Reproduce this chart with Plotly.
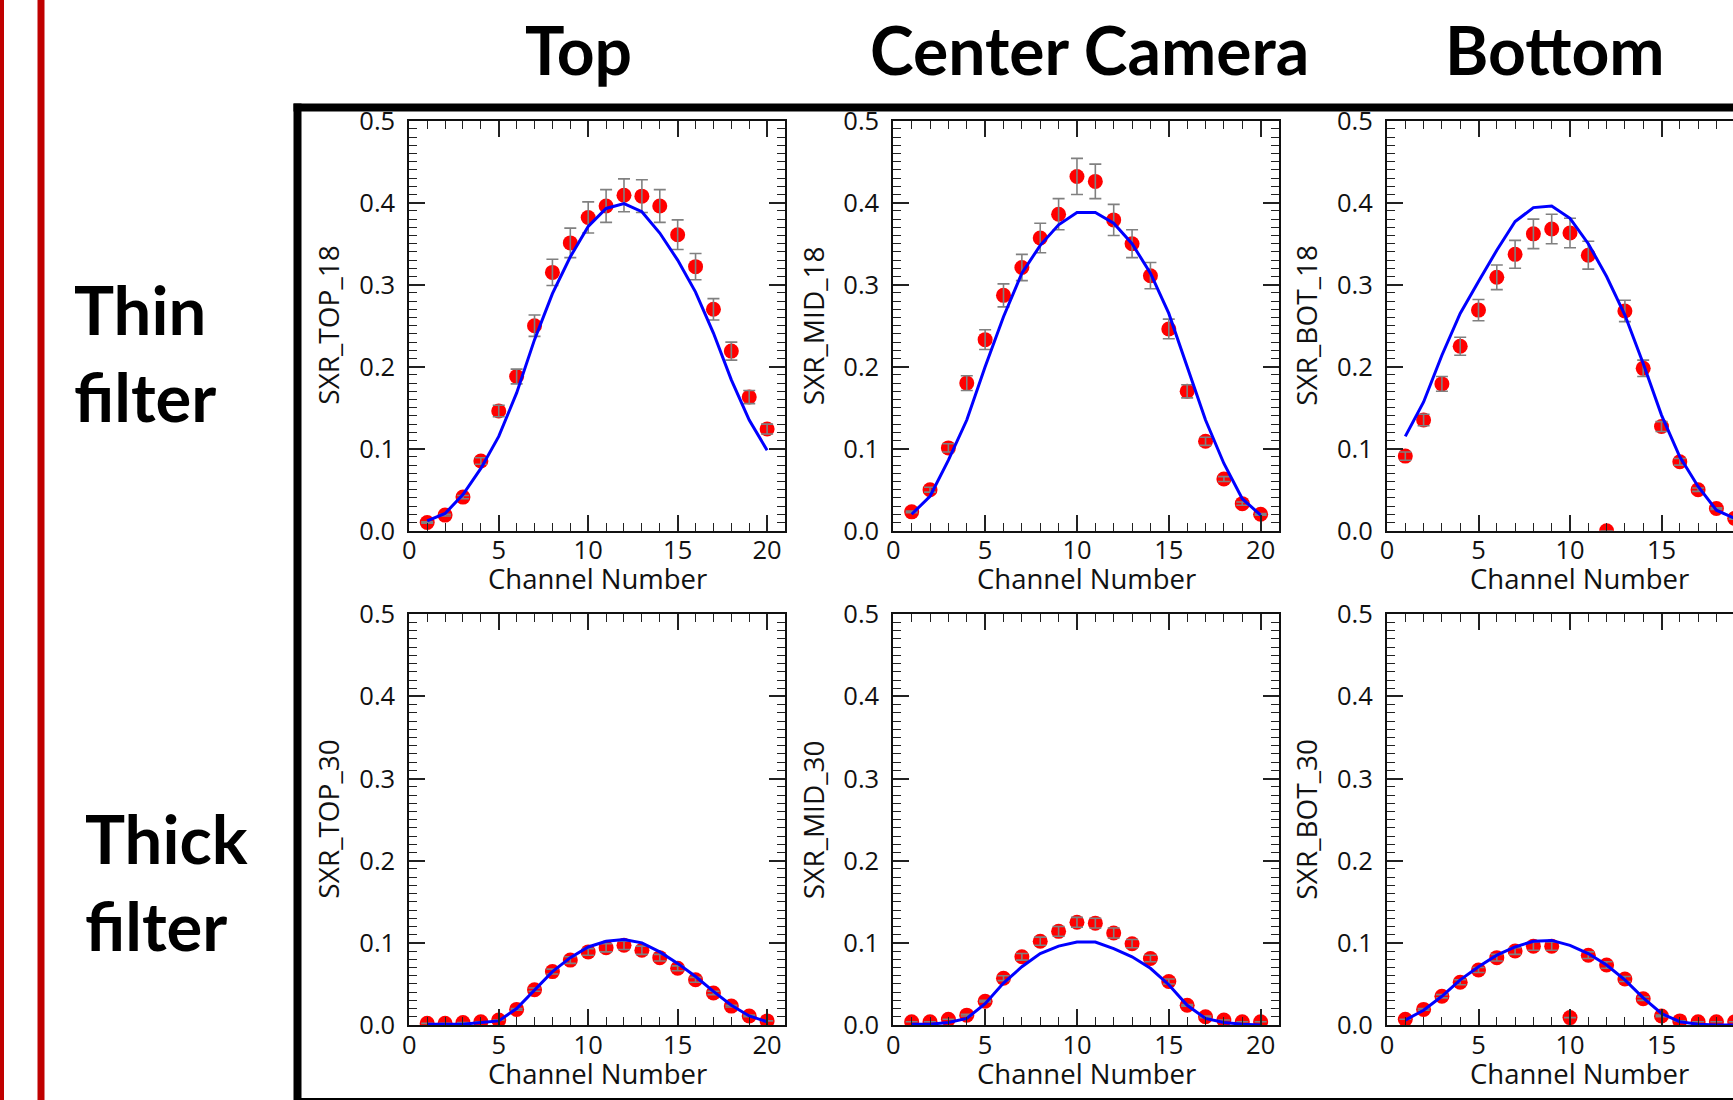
import plotly.graph_objects as go

W, H = 1733, 1100

# Column headings and row headings
col_titles = ["Top", "Center Camera", "Bottom"]
row_titles = ["Thin<br>filter", "Thick<br>filter"]
y_titles = [["SXR_TOP_18", "SXR_MID_18", "SXR_BOT_18"],
            ["SXR_TOP_30", "SXR_MID_30", "SXR_BOT_30"]]
x_title = "Channel Number"

channels = list(range(1, 21))
channels_bot = list(range(1, 20))

# Thin filter (18) measurements, uncertainties and model curves
top18 = [0.010, 0.019, 0.041, 0.085, 0.146, 0.188, 0.250, 0.315, 0.351, 0.382,
         0.396, 0.409, 0.408, 0.396, 0.361, 0.322, 0.270, 0.219, 0.163, 0.124]
top18_err = [0.001, 0.001, 0.002, 0.004, 0.007, 0.009, 0.013, 0.016, 0.018, 0.019,
             0.020, 0.020, 0.020, 0.020, 0.018, 0.016, 0.013, 0.011, 0.008, 0.006]
top18_fit = [0.012, 0.021, 0.044, 0.076, 0.115, 0.168, 0.233, 0.289, 0.334, 0.371,
             0.393, 0.399, 0.389, 0.363, 0.330, 0.291, 0.241, 0.184, 0.135, 0.098]

mid18 = [0.023, 0.050, 0.101, 0.180, 0.233, 0.287, 0.321, 0.357, 0.386, 0.432,
         0.426, 0.379, 0.350, 0.311, 0.246, 0.170, 0.109, 0.063, 0.033, 0.020]
mid18_err = [0.001, 0.003, 0.005, 0.009, 0.012, 0.014, 0.016, 0.018, 0.019, 0.022,
             0.021, 0.019, 0.017, 0.016, 0.012, 0.008, 0.005, 0.003, 0.002, 0.001]
mid18_fit = [0.020, 0.042, 0.086, 0.135, 0.200, 0.261, 0.314, 0.348, 0.373, 0.388,
             0.388, 0.375, 0.350, 0.314, 0.265, 0.200, 0.135, 0.082, 0.039, 0.019]

bot18 = [0.091, 0.135, 0.179, 0.225, 0.269, 0.309, 0.337, 0.362, 0.368, 0.363,
         0.336, 0.000, 0.268, 0.198, 0.127, 0.084, 0.050, 0.027, 0.015]
bot18_err = [0.005, 0.007, 0.009, 0.011, 0.013, 0.015, 0.017, 0.018, 0.018, 0.018,
             0.017, 0.000, 0.013, 0.010, 0.006, 0.004, 0.002, 0.001, 0.001]
bot18_fit = [0.115, 0.157, 0.214, 0.265, 0.304, 0.342, 0.377, 0.394, 0.396, 0.381,
             0.350, 0.310, 0.263, 0.204, 0.141, 0.090, 0.054, 0.025, 0.015]

# Thick filter (30) measurements, uncertainties and model curves
top30 = [0.002, 0.002, 0.003, 0.004, 0.006, 0.019, 0.043, 0.065, 0.079, 0.089,
         0.094, 0.097, 0.091, 0.082, 0.069, 0.055, 0.039, 0.023, 0.011, 0.005]
top30_err = [0.000, 0.000, 0.000, 0.000, 0.000, 0.001, 0.002, 0.003, 0.004, 0.004,
             0.005, 0.005, 0.005, 0.004, 0.003, 0.003, 0.002, 0.001, 0.001, 0.000]
top30_fit = [0.001, 0.001, 0.001, 0.003, 0.005, 0.020, 0.043, 0.065, 0.082, 0.095,
             0.102, 0.104, 0.100, 0.089, 0.075, 0.059, 0.041, 0.024, 0.011, 0.004]

mid30 = [0.004, 0.004, 0.007, 0.012, 0.029, 0.057, 0.083, 0.102, 0.114, 0.125,
         0.124, 0.112, 0.099, 0.081, 0.053, 0.024, 0.010, 0.006, 0.004, 0.004]
mid30_err = [0.000, 0.000, 0.000, 0.001, 0.001, 0.003, 0.004, 0.005, 0.006, 0.006,
             0.006, 0.006, 0.005, 0.004, 0.003, 0.001, 0.001, 0.000, 0.000, 0.000]
mid30_fit = [0.001, 0.001, 0.003, 0.008, 0.026, 0.051, 0.071, 0.087, 0.096, 0.101,
             0.101, 0.093, 0.083, 0.069, 0.049, 0.024, 0.008, 0.003, 0.001, 0.000]

bot30 = [0.007, 0.019, 0.035, 0.052, 0.067, 0.082, 0.090, 0.096, 0.096, 0.009,
         0.085, 0.073, 0.056, 0.032, 0.011, 0.005, 0.004, 0.004, 0.004]
bot30_err = [0.000, 0.001, 0.002, 0.003, 0.003, 0.004, 0.004, 0.005, 0.005, 0.000,
             0.004, 0.004, 0.003, 0.002, 0.001, 0.000, 0.000, 0.000, 0.000]
bot30_fit = [0.006, 0.018, 0.035, 0.055, 0.071, 0.085, 0.095, 0.102, 0.103, 0.097,
             0.087, 0.073, 0.055, 0.033, 0.014, 0.004, 0.001, 0.000, 0.000]

panels = [
    [(channels, top18, top18_err, top18_fit),
     (channels, mid18, mid18_err, mid18_fit),
     (channels_bot, bot18, bot18_err, bot18_fit)],
    [(channels, top30, top30_err, top30_fit),
     (channels, mid30, mid30_err, mid30_fit),
     (channels_bot, bot30, bot30_err, bot30_fit)],
]

# Plot-area placement in pixels: (left, right) per column, (top, bottom) per row
col_px = [(409.3, 785.0), (893.3, 1279.0), (1387.0, 1733.0)]
col_xmax = [21.0, 21.0, (1733.0 - 1387.0) / 18.3]
row_px = [(120.7, 530.7), (614.3, 1025.0)]


def px(x):
    return x / W


def py(y):
    return 1 - y / H


TICK_FONT = dict(family="Open Sans", size=25.5, color="#111")
YTITLE_FONT = dict(family="Open Sans", size=28, color="#111")
XTITLE_FONT = dict(family="Open Sans", size=27.5, color="#111")
HEAD_FONT = dict(family="Lato", size=66, color="black")

fig = go.Figure()
layout_axes = {}
idx = 0
for r in range(2):
    for c in range(3):
        idx += 1
        xs, ys, es, fit = panels[r][c]
        xa = "x" if idx == 1 else f"x{idx}"
        ya = "y" if idx == 1 else f"y{idx}"
        # measured points
        fig.add_trace(go.Scatter(
            x=xs, y=ys, mode="markers", xaxis=xa, yaxis=ya,
            marker=dict(size=15, color="#ff0000", line=dict(width=0)),
            showlegend=False))
        # uncertainty bars drawn above the markers
        fig.add_trace(go.Scatter(
            x=xs, y=ys, mode="markers", xaxis=xa, yaxis=ya,
            marker=dict(size=1, color="rgba(0,0,0,0)"),
            error_y=dict(type="data", array=es, color="#808080",
                         thickness=1.6, width=6),
            showlegend=False))
        # model curve
        fig.add_trace(go.Scatter(
            x=xs, y=fit, mode="lines", xaxis=xa, yaxis=ya,
            line=dict(color="#0000ff", width=3),
            showlegend=False))

        xl, xr = col_px[c]
        yt, yb = row_px[r]
        key = "" if idx == 1 else str(idx)
        layout_axes[f"xaxis{key}"] = dict(
            domain=[px(xl), px(xr)], range=[0, col_xmax[c]], anchor=ya,
            showline=True, linecolor="#111", linewidth=2, mirror="ticks",
            ticks="inside", ticklen=16, tickwidth=1.6, tickcolor="#222",
            tick0=0, dtick=5, tickfont=TICK_FONT, ticklabelstandoff=-4,
            minor=dict(ticks="inside", ticklen=8, dtick=1, tickwidth=1.4,
                       tickcolor="#222", showgrid=False),
            showgrid=False, zeroline=False, automargin=False)
        layout_axes[f"yaxis{key}"] = dict(
            domain=[py(yb), py(yt)], range=[0, 0.5], anchor=xa,
            showline=True, linecolor="#111", linewidth=2,
            mirror=("ticks" if c < 2 else False),
            ticks="inside", ticklen=16, tickwidth=1.6, tickcolor="#222",
            tick0=0, dtick=0.1, tickformat=".1f", tickfont=TICK_FONT,
            ticklabelstandoff=7,
            minor=dict(ticks="inside", ticklen=8, dtick=0.01, tickwidth=1.4,
                       tickcolor="#222", showgrid=False),
            showgrid=False, zeroline=False, automargin=False)

annotations = []
# axis titles
ytitle_x = [328.0, 812.5, 1306.0]
xtitle_x = [597.5, 1086.0, 1579.7]
for r in range(2):
    yt, yb = row_px[r]
    for c in range(3):
        annotations.append(dict(
            text=y_titles[r][c], x=px(ytitle_x[c]), y=py((yt + yb) / 2),
            xref="paper", yref="paper", showarrow=False, textangle=-90,
            xanchor="center", yanchor="middle", font=YTITLE_FONT))
        annotations.append(dict(
            text=x_title, x=px(xtitle_x[c]), y=py(yb + 48),
            xref="paper", yref="paper", showarrow=False,
            xanchor="center", yanchor="middle", font=XTITLE_FONT))

# column headings
for name, cx in zip(col_titles, [578.5, 1089.0, 1555.0]):
    annotations.append(dict(
        text=f"<b>{name}</b>", x=px(cx), y=py(50), xref="paper", yref="paper",
        showarrow=False, xanchor="center", yanchor="middle", font=HEAD_FONT))

# row headings
for name, lx, cy in zip(row_titles, [72.0, 83.0], [352.0, 882.0]):
    annotations.append(dict(
        text=f"<b>{name}</b>", x=px(lx), y=py(cy), xref="paper", yref="paper",
        showarrow=False, xanchor="left", yanchor="middle", align="left",
        font=dict(family="Lato", size=67, color="black")))

shapes = [
    # double red rule on the left edge
    dict(type="line", xref="paper", yref="paper", x0=px(2), x1=px(2), y0=0, y1=1,
         line=dict(color="#c00000", width=4)),
    dict(type="line", xref="paper", yref="paper", x0=px(41), x1=px(41), y0=0, y1=1,
         line=dict(color="#c00000", width=7)),
    # black frame around the grid of panels
    dict(type="line", xref="paper", yref="paper", x0=px(293.5), x1=px(1740),
         y0=py(107.5), y1=py(107.5), line=dict(color="black", width=8)),
    dict(type="line", xref="paper", yref="paper", x0=px(297.5), x1=px(297.5),
         y0=py(103.5), y1=py(1110), line=dict(color="black", width=8)),
    dict(type="line", xref="paper", yref="paper", x0=px(297.5), x1=px(1740),
         y0=py(1099), y1=py(1099), line=dict(color="black", width=2)),
]

fig.update_layout(
    width=W, height=H,
    margin=dict(l=0, r=0, t=0, b=0, pad=0, autoexpand=False),
    paper_bgcolor="white", plot_bgcolor="white",
    showlegend=False, annotations=annotations, shapes=shapes,
    **layout_axes)

# page body without default spacing so the figure sits at the window origin
page_js = ("document.body.style.margin='0';"
           "document.body.style.padding='0';"
           "document.body.style.overflow='hidden';")

fig.write_html("out.html", post_script=page_js)
